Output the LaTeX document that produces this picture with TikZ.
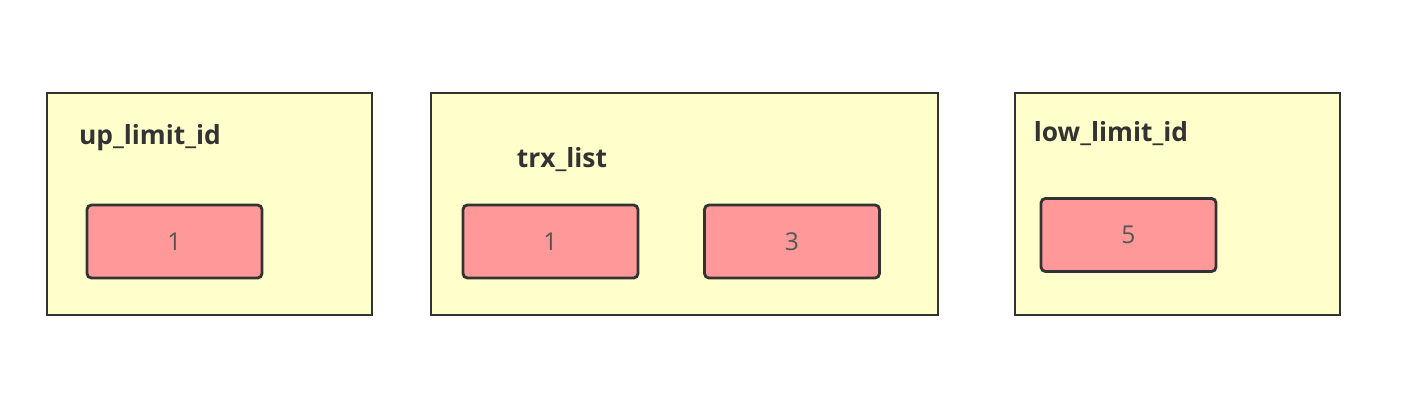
\documentclass[tikz,border=0pt]{standalone}
\usepackage{fontspec}
\setmainfont{Open Sans}
\definecolor{paleyellow}{HTML}{FFFFCC}
\definecolor{salmon}{HTML}{FF9999}
\definecolor{darkline}{HTML}{333333}
\definecolor{numgray}{HTML}{555555}
\begin{document}
\begin{tikzpicture}[x=0.02cm, y=-0.02cm,
        group/.style={rectangle, draw=darkline, fill=paleyellow, line width=1.6pt, inner sep=0pt, minimum height=4.44cm},
        idbox/.style={rectangle, draw=darkline, fill=salmon, line width=1.6pt, rounded corners=2.5pt, inner sep=0pt, minimum width=3.5cm, minimum height=1.46cm, font=\fontsize{14}{16}\selectfont, text=numgray},
        title/.style={font=\bfseries\fontsize{15}{17}\selectfont, text=darkline}]
        \useasboundingbox (0,0) rectangle (1406,404);

        % Outer groups
        \node[group, minimum width=6.5cm] (up) at (209.5, 204) {};
        \node[group, minimum width=10.14cm] (trx) at (684.5, 204) {};
        \node[group, minimum width=6.5cm] (low) at (1177.5, 204) {};

        % Titles
        \node[title] (uptitle) at (150, 138) {up\_limit\_id};
        \node[title] (trxtitle) at (562, 160) {trx\_list};
        \node[title] (lowtitle) at (1111, 134) {low\_limit\_id};

        % Ids
        \node[idbox] (up1) at (174.5, 241.5) {1};
        \node[idbox] (trx1) at (550.5, 241.5) {1};
        \node[idbox] (trx3) at (792, 241.5) {3};
        \node[idbox] (low5) at (1128.5, 235) {5};
    \end{tikzpicture}
\end{document}
